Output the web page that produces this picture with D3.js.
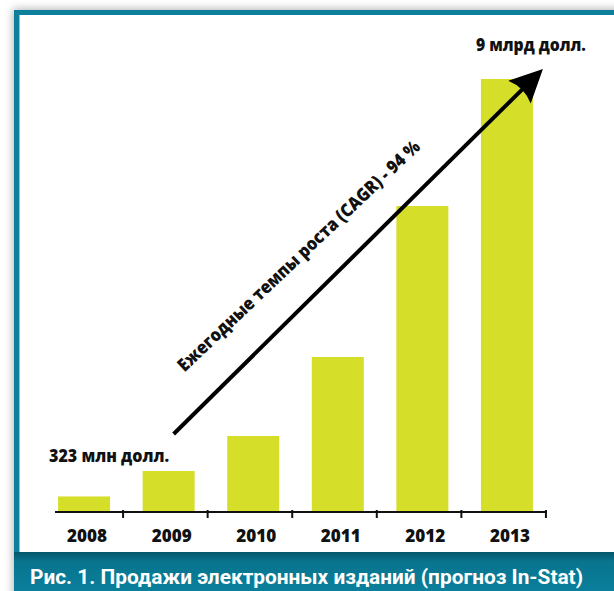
<!DOCTYPE html>
<html>
<head>
<meta charset="utf-8">
<script src="https://cdn.jsdelivr.net/npm/d3@7"></script>
<style>
  html, body { margin: 0; padding: 0; background: #ffffff; }
  svg { display: block; }
</style>
</head>
<body>
<script>
// E-book sales, million USD (In-Stat forecast)
const years = ["2008", "2009", "2010", "2011", "2012", "2013"];
const sales = [323, 852, 1580, 3222, 6360, 9000];
const firstLabel = "323 млн долл.";
const lastLabel = "9 млрд долл.";
const growthLabel = "Ежегодные темпы роста (CAGR) - 94 %";
const caption = "Рис. 1. Продажи электронных изданий (прогноз In-Stat)";

const W = 614, H = 591;
const teal = "#0a7f9b";
const barColor = "#d5de28";
const font = "'Open Sans', sans-serif";

const svg = d3.select("body").append("svg")
  .attr("width", W).attr("height", H);

const defs = svg.append("defs");
const shadow = defs.append("filter").attr("id", "shadow")
  .attr("x", "-10%").attr("y", "-10%").attr("width", "120%").attr("height", "120%");
shadow.append("feDropShadow")
  .attr("dx", -1).attr("dy", -1).attr("stdDeviation", 4)
  .attr("flood-color", "#000").attr("flood-opacity", 0.3);

const bandGrad = defs.append("linearGradient").attr("id", "band")
  .attr("x1", 0).attr("x2", 0).attr("y1", 0).attr("y2", 1);
bandGrad.append("stop").attr("offset", "0%").attr("stop-color", "#04576b");
bandGrad.append("stop").attr("offset", "25%").attr("stop-color", "#09748e");
bandGrad.append("stop").attr("offset", "100%").attr("stop-color", teal);

// Frame
svg.append("rect")
  .attr("x", 14).attr("y", 10).attr("width", W - 14 + 10).attr("height", H - 10 + 10)
  .attr("fill", teal).attr("filter", "url(#shadow)");
svg.append("rect")
  .attr("x", 14).attr("y", 552).attr("width", W - 14).attr("height", H - 552)
  .attr("fill", "url(#band)");
svg.append("rect")
  .attr("x", 19).attr("y", 15).attr("width", W - 19).attr("height", 552 - 15)
  .attr("fill", "#ffffff");
svg.append("line")
  .attr("x1", 19.5).attr("x2", 19.5).attr("y1", 15).attr("y2", 552)
  .attr("stroke", "#8cc9d8").attr("stroke-width", 1);

// Scales
const x = d3.scaleBand().domain(years).range([42, 549])
  .paddingInner(0.385).paddingOuter(0.19);
const y = d3.scaleLinear().domain([0, 9000]).range([512, 79]);
const bw = x.bandwidth();

// Bars
svg.append("g").selectAll("rect")
  .data(years.map((yr, i) => ({ yr, v: sales[i] })))
  .join("rect")
  .attr("x", d => x(d.yr))
  .attr("y", d => y(d.v))
  .attr("width", bw)
  .attr("height", d => y(0) - y(d.v))
  .attr("fill", barColor);

// Axis line with separator ticks
const axis = svg.append("g");
axis.append("line")
  .attr("x1", 55).attr("x2", 547).attr("y1", y(0)).attr("y2", y(0))
  .attr("stroke", "#111").attr("stroke-width", 2);
axis.selectAll("line.tick")
  .data(years).join("line").attr("class", "tick")
  .attr("x1", d => x(d) + bw + 13).attr("x2", d => x(d) + bw + 13)
  .attr("y1", y(0) - 2).attr("y2", y(0) + 6)
  .attr("stroke", "#111").attr("stroke-width", 2);
axis.selectAll("text")
  .data(years).join("text")
  .attr("x", d => x(d) + bw / 2 + 3)
  .attr("y", y(0) + 30)
  .attr("text-anchor", "middle")
  .attr("font-family", font)
  .attr("font-weight", 800)
  .attr("font-size", 17.5)
  .attr("fill", "#111")
  .attr("textLength", 40).attr("lengthAdjust", "spacingAndGlyphs")
  .text(d => d);

// Value annotations
svg.append("text")
  .attr("x", x(years[0]) - 9).attr("y", y(sales[0]) - 34)
  .attr("font-family", font).attr("font-weight", 800)
  .attr("font-size", 17.5).attr("fill", "#111")
  .attr("textLength", 120).attr("lengthAdjust", "spacingAndGlyphs")
  .text(firstLabel);
svg.append("text")
  .attr("x", x(years[5]) - 5).attr("y", y(sales[5]) - 28)
  .attr("font-family", font).attr("font-weight", 800)
  .attr("font-size", 17.5).attr("fill", "#111")
  .attr("textLength", 110).attr("lengthAdjust", "spacingAndGlyphs")
  .text(lastLabel);

// Growth arrow
const a0 = [x(years[1]) + 31, y(sales[2]) - 2];
const a1 = [x(years[5]) + bw + 10, y(sales[5]) - 10];
const ang = Math.atan2(a1[1] - a0[1], a1[0] - a0[0]);
const deg = ang * 180 / Math.PI;
const len = Math.hypot(a1[0] - a0[0], a1[1] - a0[1]);

const arrow = svg.append("g")
  .attr("transform", `translate(${a0[0]},${a0[1]}) rotate(${deg})`);
arrow.append("line")
  .attr("x1", 0).attr("y1", 0).attr("x2", len - 24).attr("y2", 0)
  .attr("stroke", "#000").attr("stroke-width", 4);
arrow.append("path")
  .attr("d", `M${len},0 L${len - 33},-16 Q${len - 26},0 ${len - 33},16 Z`)
  .attr("fill", "#000");

// Growth label, running along the arrow
const ux = Math.cos(ang), uy = Math.sin(ang);
const nx = uy, ny = -ux;
const tp = [a0[0] + ux * 51 + nx * 36, a0[1] + uy * 51 + ny * 36];
svg.append("text")
  .attr("transform", `translate(${tp[0]},${tp[1]}) rotate(${deg + 1.2})`)
  .attr("font-family", font).attr("font-weight", 800)
  .attr("font-size", 18).attr("fill", "#111")
  .attr("textLength", 326).attr("lengthAdjust", "spacingAndGlyphs")
  .text(growthLabel);

// Caption
svg.append("text")
  .attr("x", 30).attr("y", 584)
  .attr("font-family", "'Liberation Sans Narrow', 'Roboto', sans-serif")
  .attr("font-weight", 700).attr("font-size", 20)
  .attr("fill", "#ffffff")
  .attr("textLength", 553).attr("lengthAdjust", "spacingAndGlyphs")
  .text(caption);
</script>
</body>
</html>
